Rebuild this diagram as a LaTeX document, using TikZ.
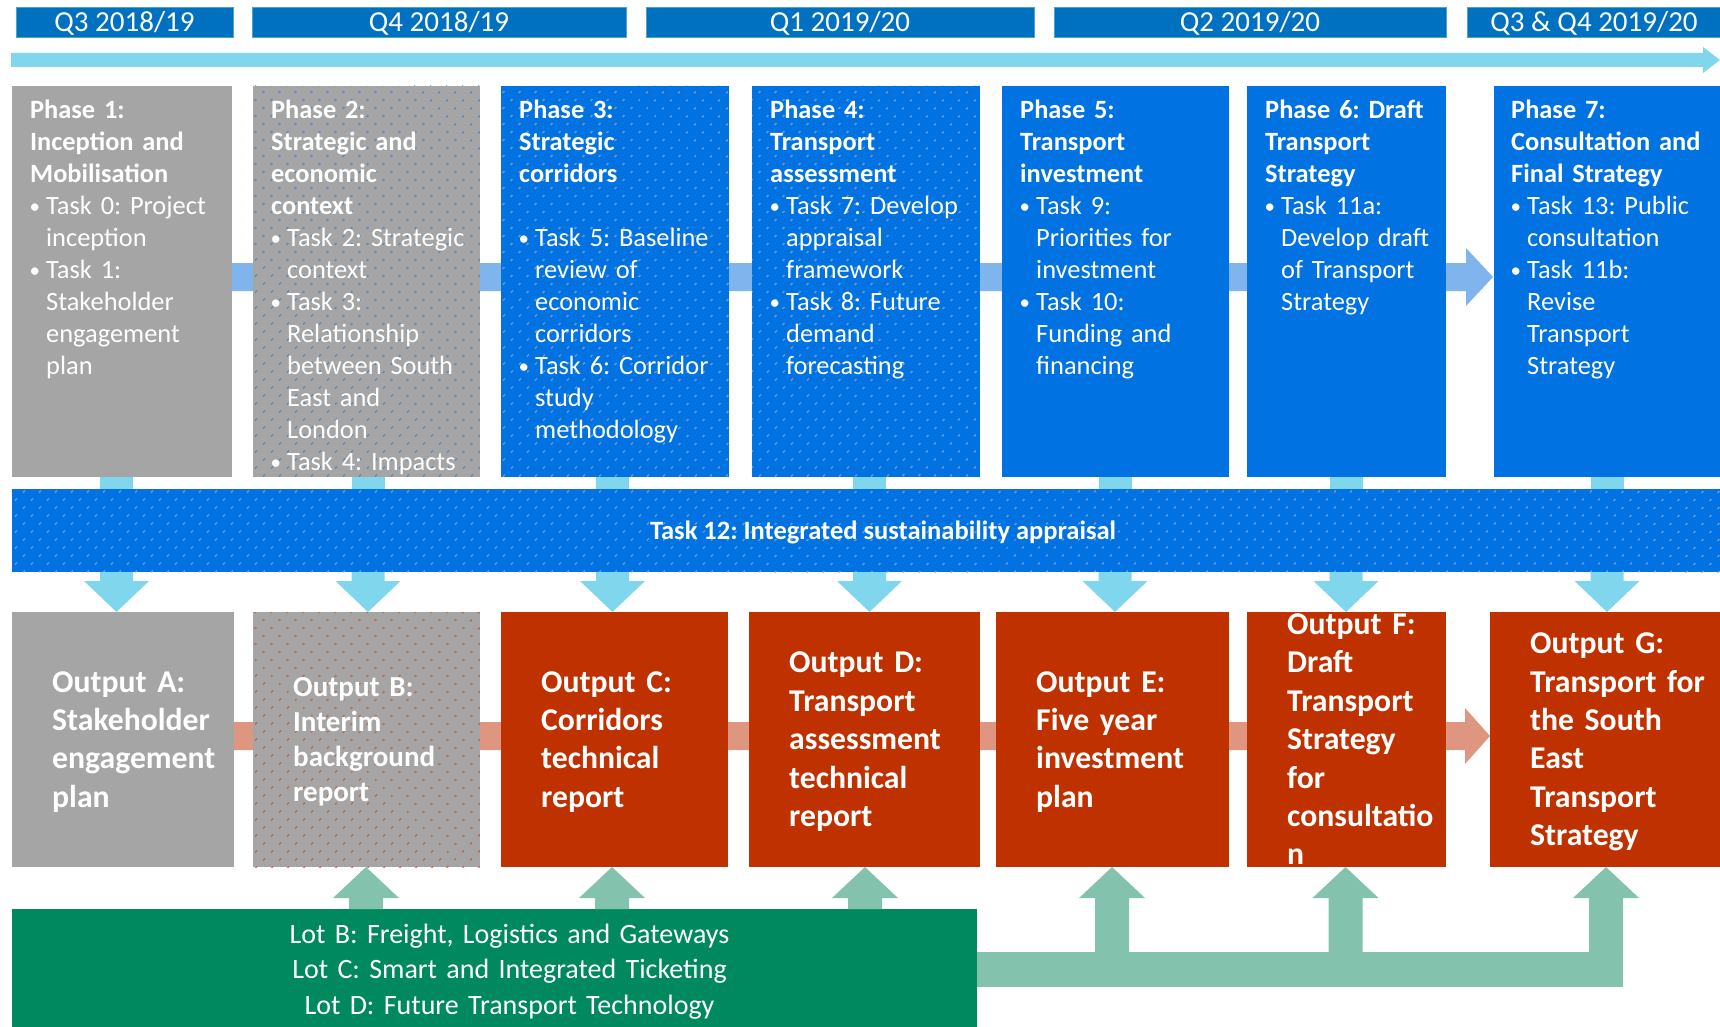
\documentclass[tikz,border=0pt]{standalone}
\usepackage{fontspec}
\setmainfont{Carlito}
\usetikzlibrary{calc,patterns.meta}
\frenchspacing

% palette
\definecolor{qblue}{RGB}{0,112,192}
\definecolor{qedge}{RGB}{75,165,195}
\definecolor{skycyan}{RGB}{128,214,236}
\definecolor{tilegrey}{RGB}{165,165,165}
\definecolor{tileblue}{RGB}{0,114,226}
\definecolor{linkblue}{RGB}{128,180,236}
\definecolor{tilered}{RGB}{192,49,0}
\definecolor{linksalmon}{RGB}{222,150,128}
\definecolor{lotgreen}{RGB}{0,137,94}
\definecolor{mintgreen}{RGB}{131,195,173}
\definecolor{dotblue}{RGB}{60,128,215}
\definecolor{dotgrey}{RGB}{150,170,200}
\definecolor{dotred}{RGB}{205,80,40}

% type sizes
\newcommand\pf{\fontsize{26.4}{32}\selectfont}
\newcommand\of{\fontsize{31.7}{38.4}\selectfont\bfseries}
\newcommand\obf{\fontsize{29}{35}\selectfont\bfseries}
\newcommand\tbul{\makebox[16pt][l]{\hspace{-0.5pt}\raisebox{1.8pt}{\fontsize{21}{32}\selectfont\textbullet}}}
\newcommand\tind{\hspace*{16pt}}

% block arrows between named nodes
\newcommand\mkdnarrow[4]{% column, source, target, colour
  \fill[#4] ($(#1 |- #2.south)+(-16.5,0)$) -- ($(#1 |- #3.north)+(-16.5,-31)$)
    -- ($(#1 |- #3.north)+(-32.5,-31)$) -- (#1 |- #3.north)
    -- ($(#1 |- #3.north)+(32.5,-31)$) -- ($(#1 |- #3.north)+(16.5,-31)$)
    -- ($(#1 |- #2.south)+(16.5,0)$) -- cycle;}
\newcommand\mkuparrow[4]{% column, source, target, colour
  \fill[#4] ($(#1 |- #2.north)+(-17,0)$) -- ($(#1 |- #3.south)+(-17,31)$)
    -- ($(#1 |- #3.south)+(-33,31)$) -- (#1 |- #3.south)
    -- ($(#1 |- #3.south)+(33,31)$) -- ($(#1 |- #3.south)+(17,31)$)
    -- ($(#1 |- #2.north)+(17,0)$) -- cycle;}
\newcommand\mkshaft[3]{% column, source, target
  \fill[skycyan] ($(#1 |- #2.south)+(-16.5,0)$) rectangle ($(#1 |- #3.north)+(16.5,0)$);}

\tikzset{
  tile/.style={rectangle, inner sep=0pt, outer sep=0pt, draw=none},
  qbox/.style={tile, fill=qblue, draw=qedge, line width=0.9pt, minimum height=30pt,
    text=white, font=\fontsize{29}{35}\selectfont, text height=19pt, text depth=0pt},
  greytile/.style={tile, fill=tilegrey},
  bluetile/.style={tile, fill=tileblue},
  redtile/.style={tile, fill=tilered},
  phasetile/.style={minimum height=391pt},
  outtile/.style={minimum height=255pt},
  bluedots/.style={postaction={pattern={Dots[distance=11.31pt, radius=1.1pt, angle=45]}, pattern color=dotblue}},
  greydots/.style={postaction={pattern={Dots[distance=11.31pt, radius=1.1pt, angle=45]}, pattern color=dotgrey}},
  reddots/.style={postaction={pattern={Dots[distance=11.31pt, radius=1.1pt, angle=45]}, pattern color=dotred}},
  ptext/.style={anchor=base west, inner sep=0pt, text width=215pt, align=left, text=white, font=\pf},
  otext/.style={anchor=base west, inner sep=0pt, text width=200pt, align=left, text=white, font=\of},
}

\begin{document}
\begin{tikzpicture}[x=1pt,y=-1pt]
\useasboundingbox (0,0) rectangle (1720,1027);

% ---- quarters and time line
\node[qbox, minimum width=217pt] (q1) at (124.5,22) {Q3 2018/19};
\node[qbox, minimum width=374pt] (q2) at (439,22) {Q4 2018/19};
\node[qbox, minimum width=388pt] (q3) at (840,22) {Q1 2019/20};
\node[qbox, minimum width=392pt] (q4) at (1250,22) {Q2 2019/20};
\node[qbox, minimum width=254pt] (q5) at (1594,22) {Q3 \& Q4 2019/20};

\coordinate (tl0) at (11,60);
\coordinate (tl1) at (1720,60);
\fill[skycyan] ($(tl0)+(0,-7)$) -- ($(tl1)+(-17,-7)$) -- ($(tl1)+(-17,-13)$) -- (tl1)
  -- ($(tl1)+(-17,13)$) -- ($(tl1)+(-17,7)$) -- ($(tl0)+(0,7)$) -- cycle;

% ---- phases
\node[greytile, phasetile, minimum width=220pt] (p1) at (122,281.5) {};
\coordinate (pb) at (120,277);
\node[tile, phasetile, minimum width=226pt] (p7) at (1607,281.5) {};
\fill[linkblue] ($(pb)+(0,-14)$) -- ($(pb -| p7.west)+(-28,-14)$) -- ($(pb -| p7.west)+(-28,-29)$)
  -- ($(pb -| p7.west)+(-1,0)$) -- ($(pb -| p7.west)+(-28,29)$) -- ($(pb -| p7.west)+(-28,14)$)
  -- ($(pb)+(0,14)$) -- cycle;
\node[greytile, phasetile, minimum width=220pt] at (p1) {};
\node[greytile, bluedots, phasetile, minimum width=227pt] (p2) at (366.5,281.5) {};
\node[bluetile, greydots, phasetile, minimum width=228pt] (p3) at (615,281.5) {};
\node[bluetile, greydots, phasetile, minimum width=228pt] (p4) at (866,281.5) {};
\node[bluetile, phasetile, minimum width=227pt] (p5) at (1115.5,281.5) {};
\node[bluetile, phasetile, minimum width=199pt] (p6) at (1346.5,281.5) {};
\node[bluetile, phasetile, minimum width=226pt] at (p7) {};

% ---- sustainability appraisal band
\coordinate (k1) at (116.5,0);
\coordinate (k2) at (368,0);
\coordinate (k3) at (612.5,0);
\coordinate (k4) at (869.5,0);
\coordinate (k5) at (1115,0);
\coordinate (k6) at (1346,0);
\coordinate (k7) at (1607,0);
\node[bluetile, greydots, minimum width=1708pt, minimum height=83pt] (t12) at (866,530.5) {};
\foreach \k/\p in {k1/p1,k2/p2,k3/p3,k4/p4,k5/p5,k6/p6,k7/p7} {\mkshaft{\k}{\p}{t12}}

% ---- outputs
\node[tile, outtile, minimum width=230pt] (oG) at (1605,739.5) {};
\coordinate (sb) at (120,736);
\fill[linksalmon] ($(sb)+(0,-14)$) -- ($(sb -| oG.west)+(-25,-14)$) -- ($(sb -| oG.west)+(-25,-28)$)
  -- (sb -| oG.west) -- ($(sb -| oG.west)+(-25,28)$) -- ($(sb -| oG.west)+(-25,14)$)
  -- ($(sb)+(0,14)$) -- cycle;
\node[greytile, outtile, minimum width=222pt] (oA) at (123,739.5) {};
\node[greytile, reddots, outtile, minimum width=227pt] (oB) at (366.5,739.5) {};
\node[redtile, outtile, minimum width=227pt] (oC) at (614.5,739.5) {};
\node[redtile, outtile, minimum width=231pt] (oD) at (864.5,739.5) {};
\node[redtile, outtile, minimum width=233pt] (oE) at (1112.5,739.5) {};
\node[redtile, outtile, minimum width=199pt] (oF) at (1346.5,739.5) {};
\node[redtile, outtile, minimum width=230pt] at (oG) {};

\mkdnarrow{k1}{t12}{oA}{skycyan}
\mkdnarrow{k2}{t12}{oB}{skycyan}
\mkdnarrow{k3}{t12}{oC}{skycyan}
\mkdnarrow{k4}{t12}{oD}{skycyan}
\mkdnarrow{k5}{t12}{oE}{skycyan}
\mkdnarrow{k6}{t12}{oF}{skycyan}
\mkdnarrow{k7}{t12}{oG}{skycyan}

% ---- other lots feeding the outputs
\node[tile, fill=lotgreen, minimum width=965pt, minimum height=120pt] (lots) at (494.5,969) {};
\node[tile, fill=mintgreen, minimum width=646pt, minimum height=35pt] (gbar) at (1300,969.5) {};
\coordinate (u2) at (366,0);
\coordinate (u3) at (612,0);
\coordinate (u4) at (865,0);
\coordinate (u5) at (1112,0);
\coordinate (u6) at (1345.5,0);
\coordinate (u7) at (1606,0);
\mkuparrow{u2}{lots}{oB}{mintgreen}
\mkuparrow{u3}{lots}{oC}{mintgreen}
\mkuparrow{u4}{lots}{oD}{mintgreen}
\mkuparrow{u5}{gbar}{oE}{mintgreen}
\mkuparrow{u6}{gbar}{oF}{mintgreen}
\mkuparrow{u7}{gbar}{oG}{mintgreen}

% ---- phase texts
\node[ptext] (tp1) at ($(p1.north west)+(18,33)$) {\pf\textbf{Phase 1:}\\\textbf{Inception and}\\\textbf{Mobilisation}\\\tbul Task 0: Project\\\tind inception\\\tbul Task 1:\\\tind Stakeholder\\\tind engagement\\\tind plan};
\node[ptext] (tp2) at ($(p2.north west)+(18,33)$) {\pf\textbf{Phase 2:}\\\textbf{Strategic and}\\\textbf{economic}\\\textbf{context}\\\tbul Task 2: Strategic\\\tind context\\\tbul Task 3:\\\tind Relationship\\\tind between South\\\tind East and\\\tind London\\\tbul Task 4: Impacts};
\node[ptext] (tp3) at ($(p3.north west)+(18,33)$) {\pf\textbf{Phase 3:}\\\textbf{Strategic}\\\textbf{corridors}\\\mbox{}\\\tbul Task 5: Baseline\\\tind review of\\\tind economic\\\tind corridors\\\tbul Task 6: Corridor\\\tind study\\\tind methodology};
\node[ptext] (tp4) at ($(p4.north west)+(18,33)$) {\pf\textbf{Phase 4:}\\\textbf{Transport}\\\textbf{assessment}\\\tbul Task 7: Develop\\\tind appraisal\\\tind framework\\\tbul Task 8: Future\\\tind demand\\\tind forecasting};
\node[ptext] (tp5) at ($(p5.north west)+(18,33)$) {\pf\textbf{Phase 5:}\\\textbf{Transport}\\\textbf{investment}\\\tbul Task 9:\\\tind Priorities for\\\tind investment\\\tbul Task 10:\\\tind Funding and\\\tind financing};
\node[ptext] (tp6) at ($(p6.north west)+(18,33)$) {\pf\textbf{Phase 6: Draft}\\\textbf{Transport}\\\textbf{Strategy}\\\tbul Task 11a:\\\tind Develop draft\\\tind of Transport\\\tind Strategy};
\node[ptext] (tp7) at ($(p7.north west)+(17,33)$) {\pf\textbf{Phase 7:}\\\textbf{Consultation and}\\\textbf{Final Strategy}\\\tbul Task 13: Public\\\tind consultation\\\tbul Task 11b:\\\tind Revise\\\tind Transport\\\tind Strategy};

\node[anchor=base, inner sep=0pt, text=white, font=\fontsize{26.5}{32}\selectfont\bfseries] (t12label) at ($(t12.center)+(17,8.5)$) {Task 12: Integrated sustainability appraisal};

% ---- output texts
\node[otext] (toA) at ($(oA.west)+(40,-47.4)$) {\of Output A:\\Stakeholder\\engagement\\plan};
\node[otext, font=\obf] (toB) at ($(oB.west)+(40,-43.3)$) {\obf Output B:\\Interim\\background\\report};
\node[otext] (toC) at ($(oC.west)+(40,-47.4)$) {\of Output C:\\Corridors\\technical\\report};
\node[otext] (toD) at ($(oD.west)+(40,-66.6)$) {\of Output D:\\Transport\\assessment\\technical\\report};
\node[otext] (toE) at ($(oE.west)+(40,-47.4)$) {\of Output E:\\Five year\\investment\\plan};
\node[otext] (toF) at ($(oF.west)+(40,-105)$) {\of Output F:\\Draft\\Transport\\Strategy\\for\\consultatio\\n};
\node[otext] (toG) at ($(oG.west)+(40,-85.8)$) {\of Output G:\\Transport for\\the South\\East\\Transport\\Strategy};

\node[anchor=base, inner sep=0pt, text width=700pt, align=center, text=white, font=\fontsize{28}{35.5}\selectfont] (tlots) at ($(lots.north)+(15,34)$) {\fontsize{28}{35.5}\selectfont Lot B: Freight, Logistics and Gateways\\Lot C: Smart and Integrated Ticketing\\Lot D: Future Transport Technology};
\end{tikzpicture}
\end{document}
